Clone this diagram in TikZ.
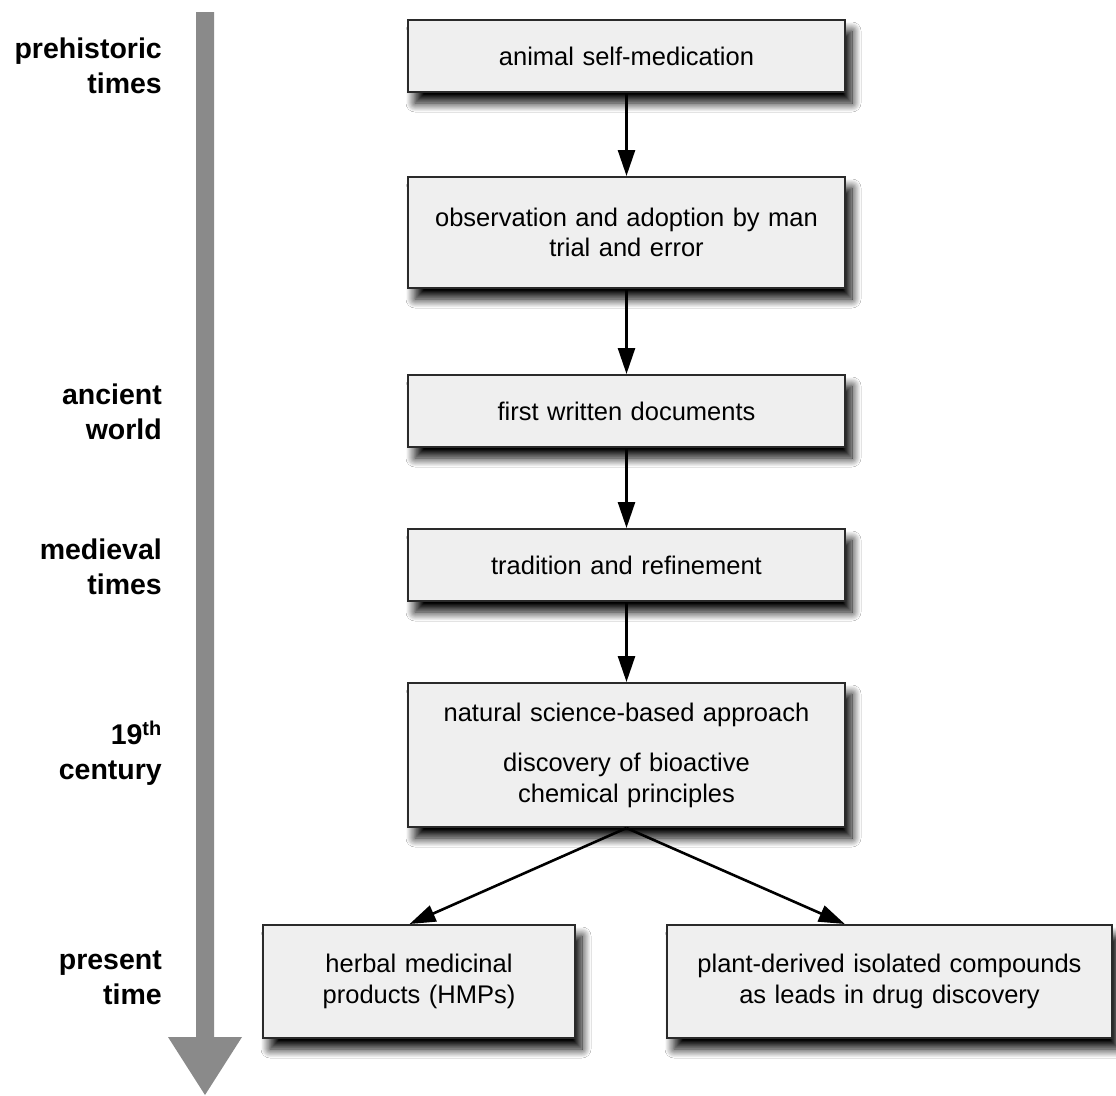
\documentclass[tikz,border=0pt]{standalone}
\usepackage{fontspec}
\setmainfont{Liberation Sans}
\usetikzlibrary{arrows.meta,calc,shadows.blur}
\definecolor{boxfill}{HTML}{EFEFEF}
\definecolor{boxline}{HTML}{2A2A2A}
\definecolor{timegray}{HTML}{8A8A8A}
\tikzset{
  stage/.style={draw=boxline, line width=2pt, fill=boxfill, minimum width=437pt,
    inner sep=0pt, text width=420pt, align=center,
    font=\fontsize{25.5pt}{30.5pt}\selectfont,
    blur shadow={shadow xshift=7pt, shadow yshift=-11pt, shadow opacity=100,
      shadow blur radius=9pt, shadow blur steps=16}},
  era/.style={anchor=east, align=right, inner sep=0pt,
    font=\fontsize{28.5pt}{35.5pt}\selectfont\bfseries},
  flow/.style={line width=2.6pt, -{Triangle[length=26pt,width=17pt]}},
}
\begin{document}
\begin{tikzpicture}[x=1pt,y=-1pt]
\useasboundingbox (0,0) rectangle (1116,1095);
\fill[white] (0,0) rectangle (1116,1095);
% time axis
\fill[timegray] (196,12) -- (214,12) -- (214,1037) -- (242,1037) -- (205,1095)
  -- (168,1037) -- (196,1037) -- cycle;
% era labels
\node[era] (l1) at (162,66) {prehistoric\\times};
\node[era] (l2) at (162,412) {ancient\\world};
\node[era] (l3) at (162,567) {medieval\\times};
\node[era] (l4) at (162,753) {19\textsuperscript{th}\\century};
\node[era] (l5) at (162,978) {present\\time};
% stages
\node[stage, minimum height=72pt] (s1) at (626.5,56) {animal self-medication};
\node[stage, minimum height=111pt] (s2) at (626.5,232.5) {observation and adoption by man\\trial and error};
\node[stage, minimum height=72pt] (s3) at (626.5,411) {first written documents};
\node[stage, minimum height=72pt] (s4) at (626.5,565) {tradition and refinement};
\node[stage, minimum height=144pt] (s5) at (626.5,755) {natural science-based approach\\[20pt]discovery of bioactive\\chemical principles};
\node[stage, minimum width=312pt, text width=300pt, minimum height=113pt] (hmp) at (419,981.5) {herbal medicinal\\products (HMPs)};
\node[stage, minimum width=445pt, text width=430pt, minimum height=113pt] (pdc) at (889.5,981.5) {plant-derived isolated compounds\\as leads in drug discovery};
% connectors
\draw[flow] (s1.south) -- (s2.north);
\draw[flow] (s2.south) -- (s3.north);
\draw[flow] (s3.south) -- (s4.north);
\draw[flow] (s4.south) -- (s5.north);
\draw[flow] (s5.south) -- ($(hmp.north west)!0.94!(hmp.north)$);
\draw[flow] (s5.south) -- ($(pdc.north west)!0.8!(pdc.north)$);
\end{tikzpicture}
\end{document}
